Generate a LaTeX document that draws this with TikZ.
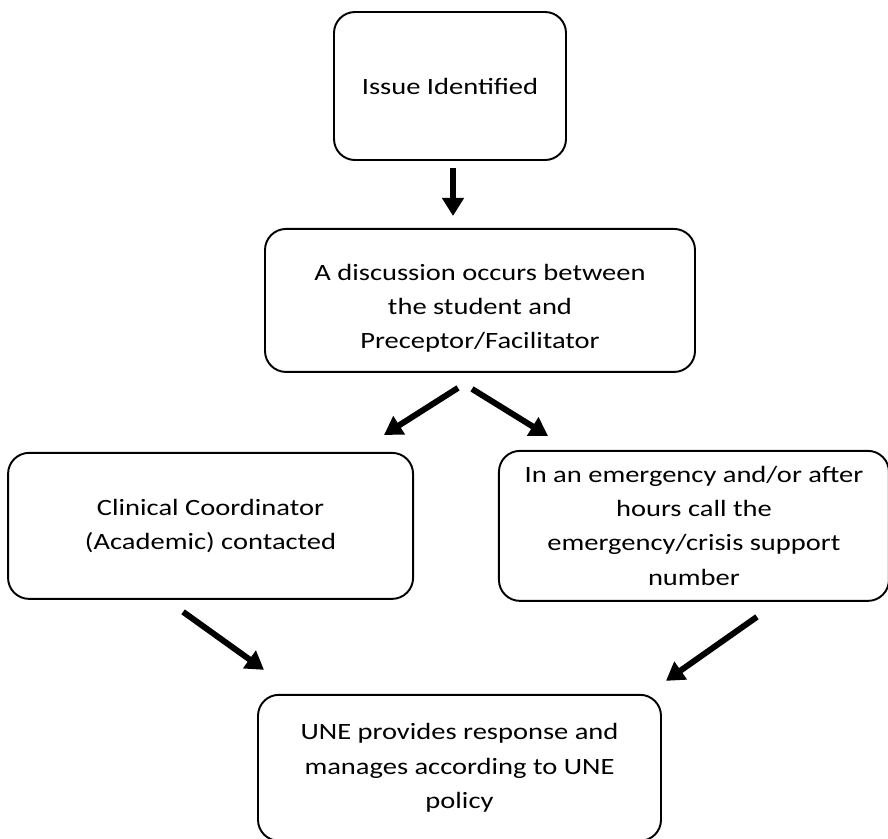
\documentclass[tikz,border=0pt]{standalone}
\usepackage{fontspec}
\setmainfont{Carlito}[FakeStretch=1.22]
\usetikzlibrary{positioning,arrows.meta}

\tikzset{
  stepbox/.style={draw, line width=1.1pt, rounded corners=0.42cm, align=center,
    font=\fontsize{13.3}{19.4}\selectfont},
  arr/.style={line width=3.4pt, -{Triangle[length=0.36cm,width=0.42cm]}}
}

\begin{document}
\begin{tikzpicture}
			\useasboundingbox (0,0) rectangle (17.76,-16.76);
			\node[stepbox, minimum width=4.64cm, minimum height=2.96cm] (Issue) at (9.0,-1.72) {Issue Identified} ;
			\node[stepbox, below=1.34cm of Issue, xshift=0.6cm, minimum width=8.6cm, minimum height=2.86cm] (Discussion) {\rule{0pt}{18pt}A discussion occurs between\\the student and\\Preceptor/Facilitator} ;
			\node[stepbox, below left=1.58cm and -3cm of Discussion, minimum width=8.1cm, minimum height=2.92cm] (Coordinator) {Clinical Coordinator\\(Academic) contacted} ;
			\node[stepbox, below right=1.54cm and -3.96cm of Discussion, minimum width=7.8cm, minimum height=3cm] (Emergency) {In an emergency and/or after\\hours call the\\emergency/crisis support\\number} ;
			\node[stepbox, below right=1.88cm and -3.14cm of Coordinator, minimum width=8.06cm, minimum height=2.92cm] (UNE) {UNE provides response and\\manages according to UNE\\policy} ;
			% free ends of the arrows
			\coordinate (IssueOut) at ([xshift=0.06cm,yshift=-0.14cm]Issue.south) ;
			\coordinate (DiscIn) at ([xshift=-0.54cm,yshift=0.24cm]Discussion.north) ;
			\coordinate (DiscOutL) at ([xshift=-0.44cm,yshift=-0.3cm]Discussion.south) ;
			\coordinate (DiscOutR) at ([xshift=-0.16cm,yshift=-0.32cm]Discussion.south) ;
			\coordinate (CoordIn) at ([xshift=-0.6cm,yshift=0.34cm]Coordinator.north east) ;
			\coordinate (EmergIn) at ([xshift=1.0cm,yshift=0.28cm]Emergency.north west) ;
			\coordinate (CoordOut) at ([xshift=-0.55cm,yshift=-0.24cm]Coordinator.south) ;
			\coordinate (EmergOut) at ([xshift=1.26cm,yshift=-0.3cm]Emergency.south) ;
			\coordinate (UNEInL) at ([xshift=0.14cm,yshift=0.48cm]UNE.north west) ;
			\coordinate (UNEInR) at ([xshift=0.08cm,yshift=0.26cm]UNE.north east) ;
			\draw[arr] (IssueOut) -- (IssueOut |- DiscIn) ;
			\draw[arr] (DiscOutL) -- (CoordIn) ;
			\draw[arr] (DiscOutR) -- (EmergIn) ;
			\draw[arr] (CoordOut) -- (UNEInL) ;
			\draw[arr] (EmergOut) -- (UNEInR) ;
		\end{tikzpicture}
\end{document}
